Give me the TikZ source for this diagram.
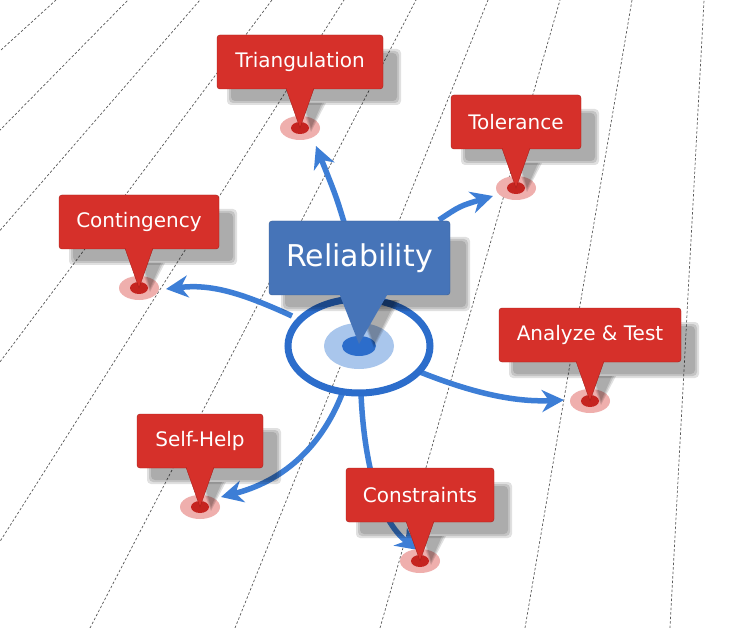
\documentclass[tikz,border=0pt]{standalone}
\usepackage{fontspec}
\setmainfont{DejaVu Sans}
\usetikzlibrary{arrows.meta}
\definecolor{boxred}{HTML}{D6302A}
\definecolor{edgered}{HTML}{A81E19}
\definecolor{pinpink}{HTML}{EFAFAD}
\definecolor{pinred}{HTML}{C52420}
\definecolor{boxblue}{HTML}{4674B8}
\definecolor{arrowblue}{HTML}{3D7ED6}
\definecolor{ringblue}{HTML}{2C6DCB}
\definecolor{lightblue}{HTML}{A9C6EC}
\tikzset{
  redbox/.style={fill=boxred, draw=edgered, rounded corners=3pt, text=white,
    font=\fontsize{20}{23}\selectfont, minimum height=54pt, inner sep=0pt},
  bluebox/.style={fill=boxblue, draw=boxblue!80!black, rounded corners=3pt, text=white,
    font=\fontsize{30}{35}\selectfont, minimum width=181pt, minimum height=74pt},
  shade/.style={fill=black, opacity=0.12},
  grid line/.style={black!65, line width=0.7pt, dash pattern=on 2.5pt off 2pt},
  link/.style={arrowblue, line width=5.5pt, -{Stealth[length=22pt,width=22pt,inset=7pt]}}
}
\begin{document}
\begin{tikzpicture}[x=1pt, y=-1pt]
  \useasboundingbox (0,0) rectangle (744,628);
  \fill[white] (0,0) rectangle (744,628);

  % Background lines
  \begin{scope}
    \clip (0,0) rectangle (744,628);
    \foreach \i in {0,...,14}
      \draw[grid line] ({670-145*\i},628) -- ({704-72*\i},0);
  \end{scope}

  % Arrow ends
  \coordinate (c-tri) at (344,222);   \coordinate (e-tri) at (316,146);
  \coordinate (c-tol) at (439,220);   \coordinate (e-tol) at (493,196);
  \coordinate (c-con) at (292,316);   \coordinate (e-con) at (166,289);
  \coordinate (c-ana) at (420,372);   \coordinate (e-ana) at (564,400);
  \coordinate (c-self) at (342,394);  \coordinate (e-self) at (221,497);
  \coordinate (c-cons) at (361,394);  \coordinate (e-cons) at (418,550);

  % Arrows
  \draw[link] (c-tri) .. controls (336,196) .. (e-tri);
  \draw[link] (c-tol) .. controls (460,206) .. (e-tol);
  \draw[link] (c-con) .. controls (240,292) and (210,284) .. (e-con);
  \draw[link] (c-ana) .. controls (480,396) and (520,402) .. (e-ana);
  \draw[link] (c-self) .. controls (320,450) and (280,482) .. (e-self);
  \draw[link] (c-cons) .. controls (364,460) and (378,520) .. (e-cons);

  % Target
  \draw[ringblue, line width=7pt] (359,346) ellipse (71 and 47);
  \fill[lightblue] (359,346) ellipse (35 and 23);
  \fill[ringblue] (359,346) ellipse (17 and 10);

  % Red callouts
  \foreach \n/\x/\y/\w/\t in {tri/300/62/83/Triangulation, tol/516/122/65/Tolerance,
      con/139/222/80/Contingency, ana/590/335/91/Analyze \& Test,
      self/200/441/63/Self-Help, cons/420/495/74/Constraints}
  {
    \fill[pinpink] (\x,\y+66) ellipse (20 and 12);
    \fill[pinred] (\x,\y+66) ellipse (9 and 6);
    \foreach \b in {0,2,4}{
      \fill[shade, rounded corners=4pt] (\x-\w+10+\b,\y-13+\b) rectangle (\x+\w+18-\b,\y+43-\b);
      \fill[shade] (\x+\b,\y+41) -- (\x+11,\y+70-\b) -- (\x+26-\b,\y+41) -- cycle;
    }
    \node[redbox, minimum width={2*\w pt}] (\n) at (\x,\y) {\t};
    \coordinate (\n-pin) at (\x,\y+66);
    \filldraw[fill=boxred, draw=edgered] ([xshift=-14pt,yshift=1pt]\n.south) -- (\n-pin)
      -- ([xshift=14pt,yshift=1pt]\n.south);
    \fill[boxred] ([xshift=-13pt,yshift=2pt]\n.south) rectangle ([xshift=13pt,yshift=-0.5pt]\n.south);
  }

  % Center callout
  \foreach \b in {0,2,4}{
    \fill[shade, rounded corners=4pt] (281+\b,237+\b) rectangle (470-\b,311-\b);
    \fill[shade] (354+\b,300) -- (374,348-\b) -- (400-\b,300) -- cycle;
  }
  \node[bluebox] (rel) at (359.5,258) {Reliability};
  \coordinate (rel-pin) at (359,344);
  \fill[boxblue] ([xshift=-20pt,yshift=1pt]rel.south) -- (rel-pin) -- ([xshift=28pt,yshift=1pt]rel.south) -- cycle;
\end{tikzpicture}
\end{document}
